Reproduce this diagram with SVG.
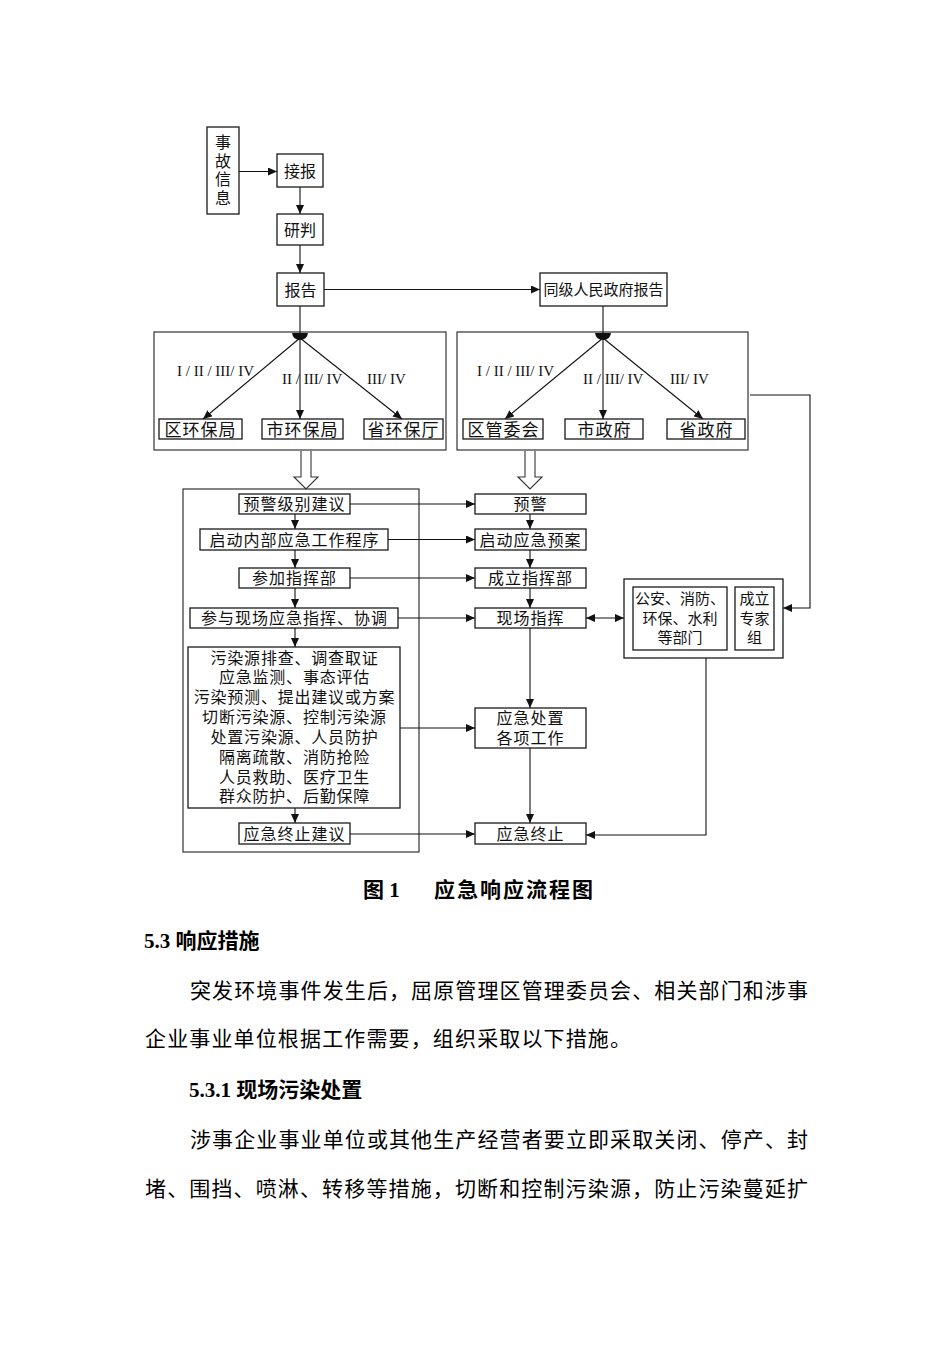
<svg xmlns="http://www.w3.org/2000/svg" width="952" height="1347" viewBox="0 0 952 1347">
<defs>
<style>
.bx{fill:#fff;stroke:#1a1a1a;stroke-width:1.3}
.ct{fill:none;stroke:#333;stroke-width:1.2}
.ln{fill:none;stroke:#111;stroke-width:1.1}
.ar{fill:none;stroke:#111;stroke-width:1.1;marker-end:url(#ah)}
.t{font-family:"Noto Sans CJK SC","Noto Sans",sans-serif;font-size:16px;fill:#111;text-anchor:middle}
.tm{font-family:"Liberation Sans","Noto Sans CJK SC",sans-serif;font-size:16px;fill:#111;text-anchor:middle}
.tm15{font-family:"Liberation Sans","Noto Sans CJK SC",sans-serif;font-size:15px;fill:#111;text-anchor:middle}
.t15{font-family:"Noto Sans CJK SC","Noto Sans",sans-serif;font-size:15px;fill:#111;text-anchor:middle}
.t17{font-family:"Noto Sans CJK SC","Noto Sans",sans-serif;font-size:17px;fill:#111;text-anchor:middle}
.rm{font-family:"Liberation Serif","Times New Roman",serif;font-size:15px;fill:#111}
.body{font-family:"Liberation Serif","Noto Sans CJK SC",serif;font-size:21px;fill:#000}
.hd{font-family:"Liberation Serif","Noto Sans CJK SC",serif;font-size:21px;font-weight:bold;fill:#000}
</style>
<marker id="ah" markerUnits="userSpaceOnUse" markerWidth="9" markerHeight="8" refX="9" refY="4" orient="auto-start-reverse" viewBox="0 0 9 8">
<path d="M0,0 L9,4 L0,8 Z" fill="#111"/>
</marker>
</defs>
<rect width="952" height="1347" fill="#fff"/>

<g id="containers">
<rect class="ct" x="154" y="332" width="292" height="118"/>
<rect class="ct" x="457" y="332" width="291" height="118"/>
<rect class="ct" x="183" y="489" width="236" height="363"/>
</g>

<g id="connectors">
<line class="ar" x1="239" y1="171.5" x2="277" y2="171.5"/>
<line class="ar" x1="300" y1="187" x2="300" y2="214"/>
<line class="ar" x1="300" y1="245" x2="300" y2="273"/>
<line class="ar" x1="324" y1="289.5" x2="540" y2="289.5"/>
<line class="ln" x1="300" y1="306" x2="300" y2="334"/>
<line class="ln" x1="603" y1="306" x2="603" y2="334"/>
<path d="M292,333 L308,333 Q307,340 300,340 Q293,340 292,333 Z" fill="#111"/>
<path d="M595,333 L611,333 Q610,340 603,340 Q596,340 595,333 Z" fill="#111"/>
<line class="ar" x1="300" y1="338" x2="203" y2="419"/>
<line class="ar" x1="300" y1="338" x2="300" y2="419"/>
<line class="ar" x1="300" y1="338" x2="402" y2="419"/>
<line class="ar" x1="603" y1="338" x2="505" y2="419"/>
<line class="ar" x1="603" y1="338" x2="603" y2="419"/>
<line class="ar" x1="603" y1="338" x2="703" y2="419"/>
<path d="M301,451 L301,477 L294,477 L306,489 L318,477 L311,477 L311,451" fill="#fff" stroke="#333" stroke-width="1.1"/>
<path d="M525,451 L525,477 L518,477 L530,489 L542,477 L535,477 L535,451" fill="#fff" stroke="#333" stroke-width="1.1"/>
<line class="ar" x1="295" y1="514" x2="295" y2="529"/>
<line class="ar" x1="295" y1="550" x2="295" y2="568"/>
<line class="ar" x1="295" y1="588" x2="295" y2="608"/>
<line class="ar" x1="295" y1="628" x2="295" y2="647"/>
<line class="ar" x1="295" y1="808" x2="295" y2="823"/>
<line class="ar" x1="530" y1="514" x2="530" y2="529"/>
<line class="ar" x1="530" y1="550" x2="530" y2="568"/>
<line class="ar" x1="530" y1="588" x2="530" y2="608"/>
<line class="ar" x1="530" y1="628" x2="530" y2="708"/>
<line class="ar" x1="530" y1="748" x2="530" y2="823"/>
<line class="ar" x1="350" y1="504" x2="475" y2="504"/>
<line class="ar" x1="388" y1="539.5" x2="475" y2="539.5"/>
<line class="ar" x1="350" y1="578" x2="475" y2="578"/>
<line class="ar" x1="398" y1="618" x2="475" y2="618"/>
<line class="ar" x1="400" y1="728" x2="475" y2="728"/>
<line class="ar" x1="350" y1="834" x2="475" y2="834"/>
<line class="ar" x1="586" y1="618" x2="624" y2="618" style="marker-start:url(#ah)"/>
<polyline class="ar" points="750,395 810,395 810,608 783,608"/>
<polyline class="ar" points="706,658 706,835 586,835"/>
</g>

<g id="n-shigu">
<rect class="bx" x="207" y="127" width="32" height="87"/>
<text class="t" x="223" y="134" style="writing-mode:vertical-rl;text-anchor:start" letter-spacing="2.7">事故信息</text>
</g>
<g id="n-jiebao"><rect class="bx" x="277" y="154" width="46" height="33"/><text class="t" x="300" y="177">接报</text></g>
<g id="n-yanpan"><rect class="bx" x="277" y="214" width="46" height="31"/><text class="t" x="300" y="235.5">研判</text></g>
<g id="n-baogao"><rect class="bx" x="277" y="273" width="47" height="33"/><text class="t" x="300.5" y="295.5">报告</text></g>
<g id="n-tongji"><rect class="bx" x="540" y="273" width="127" height="33"/><text class="t15" x="603.5" y="295">同级人民政府报告</text></g>

<g id="lbl-left">
<text class="rm" x="177" y="376">I / II / III/ IV</text>
<text class="rm" x="282" y="384">II / III/ IV</text>
<text class="rm" x="367" y="384">III/ IV</text>
</g>
<g id="lbl-right">
<text class="rm" x="477" y="376">I / II / III/ IV</text>
<text class="rm" x="583" y="384">II / III/ IV</text>
<text class="rm" x="670" y="384">III/ IV</text>
</g>

<g id="n-quhuanbao"><rect class="bx" x="159" y="419" width="83" height="20"/><text class="t17" x="200.5" y="435.5" letter-spacing="1">区环保局</text></g>
<g id="n-shihuanbao"><rect class="bx" x="262" y="419" width="81" height="20"/><text class="t17" x="302.5" y="435.5" letter-spacing="1">市环保局</text></g>
<g id="n-shenghuanbao"><rect class="bx" x="364" y="419" width="79" height="20"/><text class="t17" x="403.5" y="435.5" letter-spacing="1">省环保厅</text></g>
<g id="n-quguanwei"><rect class="bx" x="463" y="419" width="80" height="20"/><text class="t17" x="503.5" y="435.5" letter-spacing="1">区管委会</text></g>
<g id="n-shizhengfu"><rect class="bx" x="565" y="419" width="78" height="20"/><text class="t17" x="604.5" y="435.5" letter-spacing="1">市政府</text></g>
<g id="n-shengzhengfu"><rect class="bx" x="667" y="419" width="78" height="20"/><text class="t17" x="706.5" y="435.5" letter-spacing="1">省政府</text></g>

<g id="n-yujingjibie"><rect class="bx" x="239" y="494" width="111" height="20"/><text class="t" x="294.5" y="510" letter-spacing="1">预警级别建议</text></g>
<g id="n-qidongneibu"><rect class="bx" x="200" y="529" width="188" height="21"/><text class="t" x="294.5" y="545.5" letter-spacing="1">启动内部应急工作程序</text></g>
<g id="n-canjia"><rect class="bx" x="239" y="568" width="111" height="20"/><text class="t" x="294.5" y="584" letter-spacing="1">参加指挥部</text></g>
<g id="n-canyu"><rect class="bx" x="190" y="608" width="208" height="20"/><text class="t" x="294.5" y="624" letter-spacing="1">参与现场应急指挥、协调</text></g>
<g id="n-measures">
<rect class="bx" x="188" y="647" width="212" height="161"/>
<text class="tm" letter-spacing="0.8"><tspan x="294.5" y="664">污染源排查、调查取证</tspan><tspan x="294.5" y="683">应急监测、事态评估</tspan><tspan x="294.5" y="703">污染预测、提出建议或方案</tspan><tspan x="294.5" y="723">切断污染源、控制污染源</tspan><tspan x="294.5" y="743">处置污染源、人员防护</tspan><tspan x="294.5" y="763">隔离疏散、消防抢险</tspan><tspan x="294.5" y="783">人员救助、医疗卫生</tspan><tspan x="294.5" y="802">群众防护、后勤保障</tspan></text>
</g>
<g id="n-zhongzhijianyi"><rect class="bx" x="239" y="823" width="111" height="21"/><text class="t" x="294.5" y="839.5" letter-spacing="1">应急终止建议</text></g>

<g id="n-yujing"><rect class="bx" x="475" y="494" width="111" height="20"/><text class="t" x="530.5" y="510" letter-spacing="1">预警</text></g>
<g id="n-qidongyuan"><rect class="bx" x="475" y="529" width="111" height="21"/><text class="t" x="530.5" y="545.5" letter-spacing="1">启动应急预案</text></g>
<g id="n-chengli"><rect class="bx" x="475" y="568" width="111" height="20"/><text class="t" x="530.5" y="584" letter-spacing="1">成立指挥部</text></g>
<g id="n-xianchang"><rect class="bx" x="475" y="608" width="111" height="20"/><text class="t" x="530.5" y="624" letter-spacing="1">现场指挥</text></g>
<g id="n-chuzhi"><rect class="bx" x="475" y="708" width="111" height="40"/><text class="tm" letter-spacing="1"><tspan x="530.5" y="724">应急处置</tspan><tspan x="530.5" y="744">各项工作</tspan></text></g>
<g id="n-zhongzhi"><rect class="bx" x="475" y="823" width="111" height="21"/><text class="t" x="530.5" y="839.5" letter-spacing="1">应急终止</text></g>

<g id="n-bumen">
<rect class="bx" x="624" y="579" width="159" height="79" stroke-width="1.6"/>
<rect class="bx" x="633" y="587" width="94" height="63"/>
<text class="tm15"><tspan x="680" y="604">公安、消防、</tspan><tspan x="680" y="624">环保、水利</tspan><tspan x="680" y="643">等部门</tspan></text>
<rect class="bx" x="735" y="587" width="39" height="63"/>
<text class="tm15"><tspan x="754.5" y="604">成立</tspan><tspan x="754.5" y="624">专家</tspan><tspan x="754.5" y="643">组</tspan></text>
</g>

<g id="caption">
<text class="hd" x="363" y="897">图 1</text>
<text class="hd" x="434" y="897" textLength="159" lengthAdjust="spacing">应急响应流程图</text>
</g>
<g id="page-text">
<text class="hd" x="144" y="948" font-size="22">5.3 响应措施</text>
<text class="body" x="190" y="998" textLength="618" lengthAdjust="spacing">突发环境事件发生后，屈原管理区管理委员会、相关部门和涉事</text>
<text class="body" x="145" y="1046" textLength="486" lengthAdjust="spacing">企业事业单位根据工作需要，组织采取以下措施。</text>
<text class="hd" x="189" y="1097">5.3.1 现场污染处置</text>
<text class="body" x="190" y="1147" textLength="618" lengthAdjust="spacing">涉事企业事业单位或其他生产经营者要立即采取关闭、停产、封</text>
<text class="body" x="145" y="1196" textLength="663" lengthAdjust="spacing">堵、围挡、喷淋、转移等措施，切断和控制污染源，防止污染蔓延扩</text>
</g>
</svg>
